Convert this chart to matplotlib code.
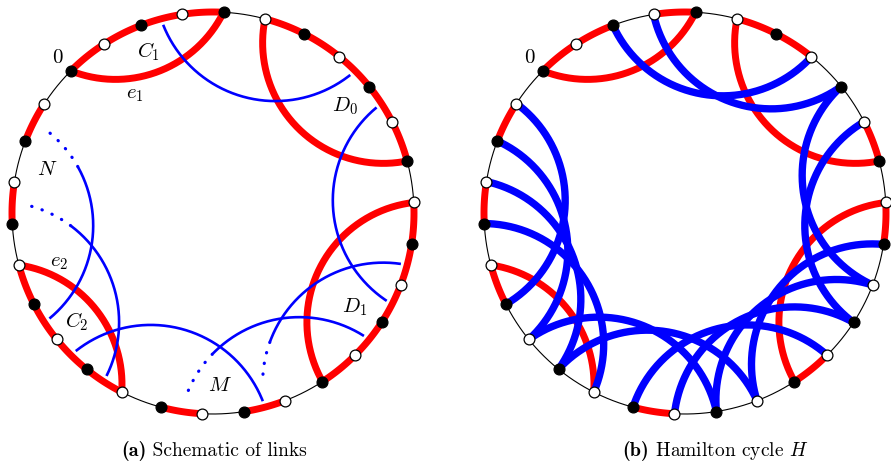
import numpy as np
import matplotlib.pyplot as plt

plt.rcParams['mathtext.fontset'] = 'cm'

# 30 vertices per cycle, vertex 0 upper left, numbered anticlockwise
n_vertices = 30
first_angle = 135.0

# red runs along the rim (from, to), anticlockwise; 30 == vertex 0
rim_red_a = [(1, 2), (3, 4), (5, 9), (10, 11), (12, 13), (14, 19), (20, 25), (26, 30)]
rim_red_b = [(1, 2), (3, 4), (5, 6), (10, 11), (14, 15), (18, 19), (20, 21),
             (23, 25), (26, 27), (28, 30)]

# red chords (same in both panels)
chords_red = [(0, 26), (25, 20), (19, 14), (9, 5)]

# blue links of the Hamilton cycle H
chords_blue_b = [(28, 23), (27, 22), (22, 17), (21, 16), (18, 13), (17, 12), (16, 11),
                 (15, 10), (13, 8), (12, 7), (9, 4), (8, 3), (7, 2), (6, 1)]

# schematic links in (a): start, end, dots from radius, dots to radius
links_a = [(27.5, 22.5, None, None), (21.5, 16.5, None, None), (7.5, 12.5, None, None),
           (17.5, 12.5, 0.70, 0.87), (15.5, 10.5, 0.70, 0.94),
           (8.5, 3.5, 0.71, 0.945), (6.5, 1.5, 0.71, 0.95)]

labels_a = ['0', '$C_1$', '$e_1$', '$D_0$', '$N$', '$e_2$', '$C_2$', '$D_1$', '$M$']

captions = [('(a)', ' Schematic of links'), ('(b)', r' Hamilton cycle $H$')]

R = 201.0
RHO = 0.6 * R
centers = [(213.0, 213.0), (685.0, 213.0)]


def vpos(c, k):
    a = np.radians(first_angle + 360.0 / n_vertices * k)
    return np.array([c[0] + R * np.cos(a), c[1] - R * np.sin(a)])


def arc_pts(c, k1, k2, n=300):
    A = vpos(c, k1)
    B = vpos(c, k2)
    M = (A + B) / 2
    h = np.linalg.norm(B - A) / 2
    out = M - np.array(c)
    out /= np.linalg.norm(out)
    O = M + np.sqrt(RHO**2 - h**2) * out
    a1 = np.arctan2(A[1] - O[1], A[0] - O[0])
    a2 = np.arctan2(B[1] - O[1], B[0] - O[0])
    da = (a2 - a1 + np.pi) % (2 * np.pi) - np.pi
    t = np.linspace(0, 1, n)
    ang = a1 + da * t
    return O[0] + RHO * np.cos(ang), O[1] + RHO * np.sin(ang), t


def rim(ax, c, runs):
    th = np.linspace(0, 2 * np.pi, 400)
    ax.plot(c[0] + R * np.cos(th), c[1] - R * np.sin(th), color='black', lw=0.8, zorder=1)
    for a, b in runs:
        ang = np.radians(first_angle + 12.0 * np.linspace(a, b, 60))
        ax.plot(c[0] + R * np.cos(ang), c[1] - R * np.sin(ang), color='red', lw=5,
                solid_capstyle='butt', zorder=2)


def nodes(ax, c):
    for k in range(n_vertices):
        p = vpos(c, k)
        ax.plot(p[0], p[1], 'o', ms=7.8, mfc='black' if k % 2 == 0 else 'white',
                mec='black', mew=0.9, zorder=6)


fig = plt.figure(figsize=(8.91, 4.65), dpi=100)
ax = fig.add_axes([0, 0, 1, 1])
ax.set_xlim(0, 891)
ax.set_ylim(465, 0)
ax.axis('off')

# (a) schematic of links
ca = centers[0]
rim(ax, ca, rim_red_a)
for k1, k2 in chords_red:
    x, y, t = arc_pts(ca, k1, k2)
    ax.plot(x, y, color='red', lw=5, solid_capstyle='butt', zorder=3)
for k1, k2, d0, d1 in links_a:
    x, y, t = arc_pts(ca, k1, k2)
    rr = np.hypot(x - ca[0], y - ca[1]) / R
    vis = rr <= 0.97
    if d0 is None:
        solid = vis
        dots = np.zeros_like(vis)
    else:
        tail = (t > 0.5) & (rr > d0)
        solid = vis & ~tail
        dots = tail & (rr <= d1)
    ax.plot(np.where(solid, x, np.nan), np.where(solid, y, np.nan), color='blue',
            lw=1.9, solid_capstyle='butt', zorder=4)
    if dots.any():
        ax.plot(np.where(dots, x, np.nan), np.where(dots, y, np.nan), color='blue',
                lw=2.3, linestyle=(0, (0.1, 3.3)), dash_capstyle='round', zorder=4)
nodes(ax, ca)

label_xy = [(57, 58), (148, 52), (135, 95), (345, 106), (47, 170), (59, 263),
            (77, 322), (355, 307), (220, 386)]
for s, (lx, ly) in zip(labels_a, label_xy):
    ax.text(lx, ly, s, fontsize=15, ha='center', va='center', fontfamily='cmr10')

# (b) Hamilton cycle H
cb = centers[1]
rim(ax, cb, rim_red_b)
for k1, k2 in chords_red:
    x, y, t = arc_pts(cb, k1, k2)
    ax.plot(x, y, color='red', lw=5, solid_capstyle='butt', zorder=3)
for k1, k2 in chords_blue_b:
    x, y, t = arc_pts(cb, k1, k2)
    ax.plot(x, y, color='blue', lw=5.3, solid_capstyle='butt', zorder=4)
nodes(ax, cb)
ax.text(529, 58, '0', fontsize=15, ha='center', va='center', fontfamily='cmr10')

# captions: bold tag followed by roman text, centred under each panel
fig.canvas.draw()
renderer = fig.canvas.get_renderer()
inv = ax.transData.inverted()
for (tag, rest), xc in zip(captions, [214, 715]):
    t1 = ax.text(0, 456, tag, fontsize=14.5, fontfamily='cmb10', va='baseline')
    t2 = ax.text(0, 456, rest, fontsize=14, fontfamily='cmr10', va='baseline')
    w1 = t1.get_window_extent(renderer).width
    w2 = t2.get_window_extent(renderer).width
    x0 = xc - (w1 + w2) / 2
    t1.set_x(x0)
    t2.set_x(x0 + w1)

fig.savefig('out.png', dpi=100)
